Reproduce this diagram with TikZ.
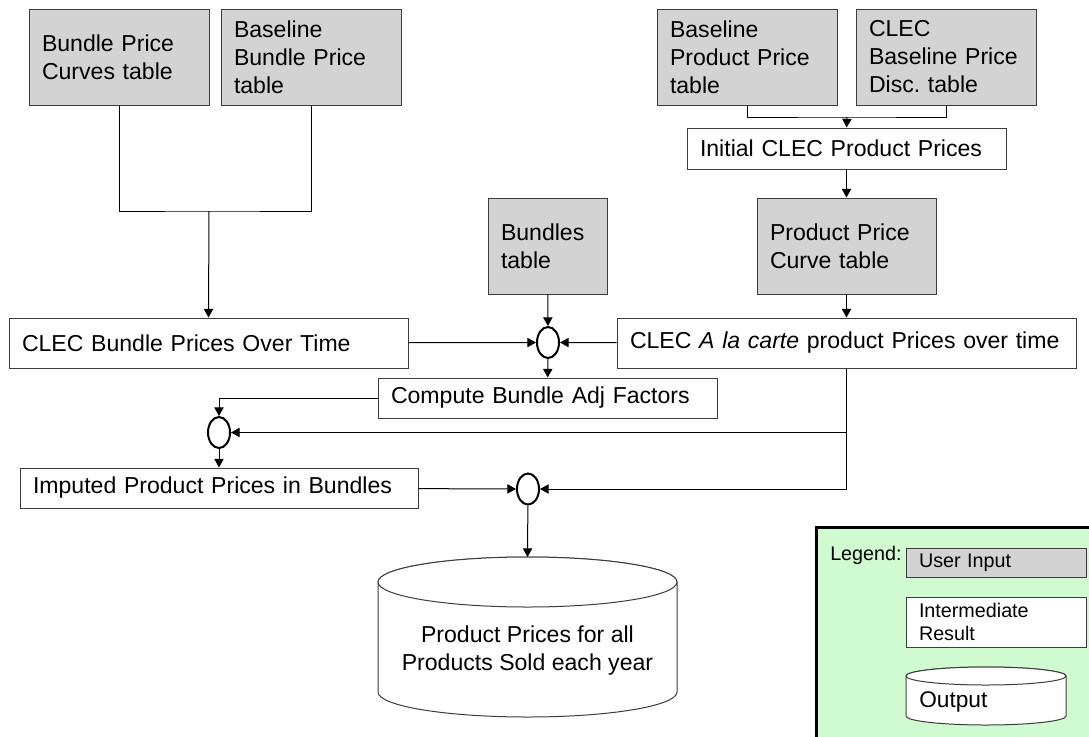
\documentclass[tikz,border=0pt]{standalone}
\usepackage{fontspec}
\setmainfont{Liberation Sans}
\usepackage{tikz}
\usetikzlibrary{arrows.meta,shapes.geometric}
\definecolor{inputgray}{RGB}{211,211,211}
\definecolor{edgegray}{RGB}{60,60,60}
\definecolor{legendgreen}{RGB}{208,250,208}
\frenchspacing

\begin{document}
\begin{tikzpicture}[x=0.75pt,y=-0.75pt,
    inbox/.style={draw=edgegray,line width=0.75pt,fill=inputgray,align=left,inner xsep=9.75pt,minimum height=72pt,font=\fontsize{17.3}{21}\selectfont},
    midbox/.style={draw=edgegray,line width=0.75pt,fill=white,align=left,inner xsep=9.75pt,font=\fontsize{17.3}{21}\selectfont},
    junc/.style={draw,ellipse,line width=1.5pt,minimum width=16.5pt,minimum height=23.25pt,inner sep=0pt},
    store/.style={draw=edgegray,line width=0.75pt,fill=white},
    flow/.style={-{Triangle[length=6.5pt,width=7pt]},line width=0.75pt}]
  \useasboundingbox (0,0) rectangle (1089,736);

  % user input tables
  \node[inbox,text width=115.5pt] (curves) at (119,57) {Bundle Price\\Curves table};
  \node[inbox,text width=115.5pt] (basebundle) at (311,57) {Baseline\\Bundle Price\\table};
  \node[inbox,text width=115.5pt] (baseprod) at (747,57) {Baseline\\Product Price\\table};
  \node[inbox,text width=115.5pt] (disc) at (946,57) {CLEC\\Baseline Price\\Disc. table};
  \node[inbox,text width=69.75pt] (bundles) at (547.5,246) {Bundles\\table};
  \node[inbox,text width=114.75pt] (prodcurve) at (846.5,246) {Product Price\\Curve table};

  % intermediate results
  \node[midbox,text width=219.75pt,minimum height=30.75pt] (initial) at (846.5,148.5) {Initial CLEC Product Prices};
  \node[midbox,text width=279.75pt,minimum height=37.5pt] (bundletime) at (208.5,343) {CLEC Bundle Prices Over Time};
  \node[midbox,text width=324.75pt,minimum height=37.5pt] (alacarte) at (846.5,343) {CLEC \textit{A la carte} product Prices over time};
  \node[midbox,text width=234.75pt,minimum height=30pt] (adjfac) at (547.5,398) {Compute Bundle Adj Factors};
  \node[midbox,text width=279pt,minimum height=30pt] (imputed) at (219,488) {Imputed Product Prices in Bundles};

  % joins
  \node[junc] (j1) at (548,342.5) {};
  \node[junc] (j2) at (219,432.5) {};
  \node[junc] (j3) at (528,489) {};

  % output
  \draw[store] (378,582) -- (378,692) arc[start angle=180,end angle=0,x radius=149.5,y radius=25]
    -- (677,582) arc[start angle=0,end angle=-180,x radius=149.5,y radius=25] -- cycle;
  \draw[store] (527.5,582) ellipse[x radius=149.5,y radius=25];
  \coordinate (resulttop) at (527.5,557);
  \node[align=center,font=\fontsize{17.3}{21}\selectfont] (result) at (527.5,651) {Product Prices for all\\Products Sold each year};

  \coordinate (leftjoin) at (209,211);
  \coordinate (rightjoin) at (847,117);

  \draw[line width=0.75pt] (curves.south) |- (leftjoin) -| (basebundle.south);
  \draw[flow] (leftjoin) -- (bundletime.north);
  \draw[line width=0.75pt] (baseprod.south) |- (rightjoin) -| (disc.south);
  \draw[flow] (rightjoin) -- (initial.north);
  \draw[flow] (initial) -- (prodcurve);
  \draw[flow] (prodcurve) -- (alacarte);
  \draw[flow] (bundles) -- (j1);
  \draw[flow] (bundletime) -- (j1);
  \draw[flow] (alacarte) -- (j1);
  \draw[flow] (j1) -- (adjfac);
  \draw[flow] (adjfac.west) -| (j2.north);
  \draw[flow] (alacarte.south) |- (j2.east);
  \draw[flow] (alacarte.south) |- (j3.east);
  \draw[flow] (j2) -- (imputed);
  \draw[flow] (imputed) -- (j3);
  \draw[flow] (j3) -- (resulttop);

  % legend
  \draw[line width=2.25pt,fill=legendgreen] (816,527) rectangle (1110,750);
  \node[anchor=base west,inner sep=0pt,font=\fontsize{14.8}{16.75}\selectfont] (legend) at (830,560) {Legend:};
  \node[inbox,text width=115.5pt,minimum height=21.75pt,font=\fontsize{14.8}{16.75}\selectfont] (keyinput) at (996,562.5) {User Input};
  \node[midbox,text width=115.5pt,minimum height=37.5pt,font=\fontsize{14.8}{16.75}\selectfont] (keymid) at (996,622) {Intermediate\\Result};
  \draw[store] (906,676) -- (906,716) arc[start angle=180,end angle=0,x radius=80,y radius=9]
    -- (1066,676) arc[start angle=0,end angle=-180,x radius=80,y radius=9] -- cycle;
  \draw[store] (986,676) ellipse[x radius=80,y radius=9];
  \node[anchor=west,inner sep=0pt,font=\fontsize{17}{20}\selectfont] (keyout) at (919,702) {Output};
\end{tikzpicture}
\end{document}
